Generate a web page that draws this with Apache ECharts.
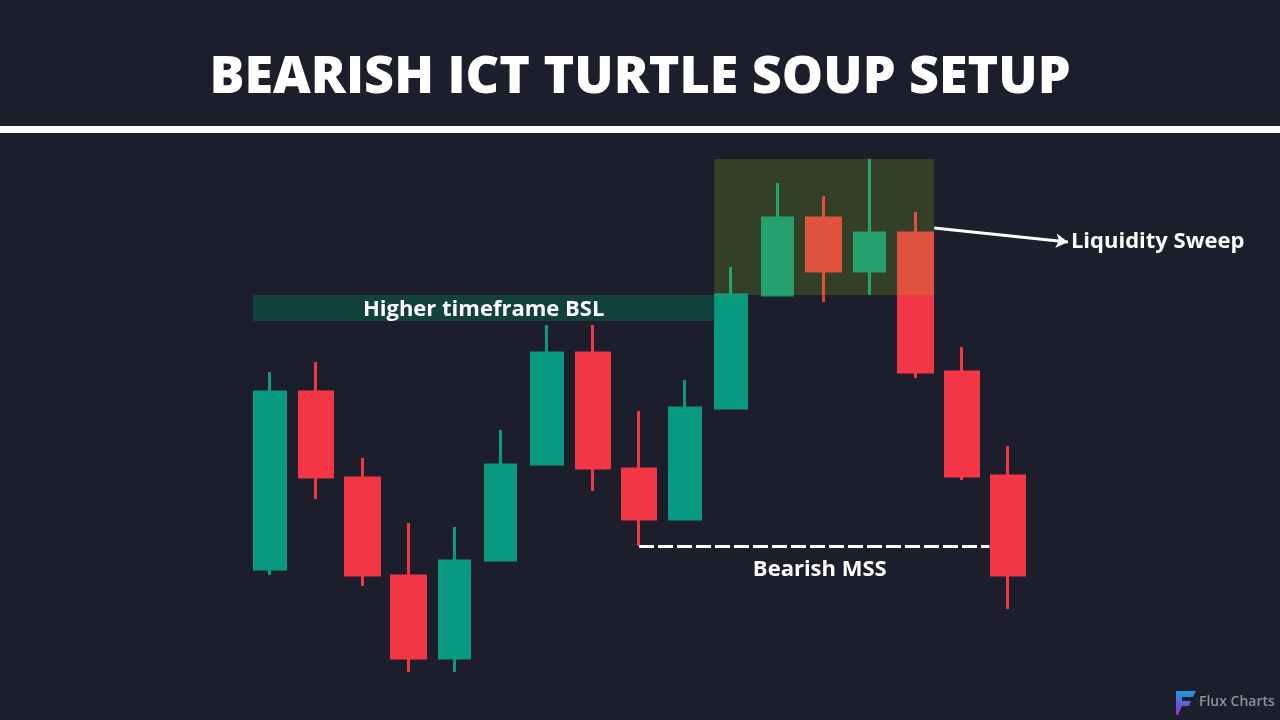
<!DOCTYPE html>
<html>
<head>
<meta charset="utf-8">
<title>Bearish ICT Turtle Soup Setup</title>
<script src="https://cdn.jsdelivr.net/npm/echarts@6/dist/echarts.min.js"></script>
<style>
  html, body { margin: 0; padding: 0; background: #1c1f2b; }
  #chart { width: 1280px; height: 720px; }
</style>
</head>
<body>
<div id="chart"></div>
<script>
// candles left to right, price units (0..72)
let candleIds = ['c1','c2','c3','c4','c5','c6','c7','c8','c9','c10','c11','c12','c13','c14','c15','c16','c17'];
let openVals  = [15.1, 32.8, 24.2, 14.4,  6.2, 16.0, 25.6, 36.7, 25.1, 20.1, 31.2, 42.5, 50.2, 44.9, 48.7, 34.8, 24.4];
let closeVals = [32.8, 24.3, 14.5,  6.2, 15.9, 25.5, 36.7, 25.2, 20.1, 31.2, 42.5, 50.2, 44.9, 48.7, 34.8, 24.4, 14.5];
let lowVals   = [14.5, 22.1, 13.4,  4.8,  4.8, 16.0, 25.6, 22.9, 17.4, 20.1, 31.2, 42.5, 41.8, 42.5, 34.2, 24.0, 11.1];
let highVals  = [34.8, 35.8, 26.2, 19.7, 19.3, 29.0, 39.5, 39.5, 30.9, 34.0, 45.3, 53.7, 52.4, 56.1, 50.8, 37.3, 27.4];

// key levels
let bslLevel = 42.5;      // higher timeframe buy side liquidity
let bslBand = 2.6;        // thickness of the BSL zone
let mssLevel = 17.4;      // low that gets broken (market structure shift)
let sweepFrom = 10, sweepTo = 14;   // candles inside the liquidity sweep box

let upColor = '#089981';
let downColor = '#f23645';
let bgColor = '#1c1f2b';
let font = 'Open Sans';

// layout: second full-size grid shares the candle index scale
const GRID_LEFT = 247, GRID_W = 784;
const SLOT = GRID_W / candleIds.length;
const xMin = -0.5 - GRID_LEFT / SLOT;
const xMax = xMin + 1280 / SLOT;
const upHalf = 17 / SLOT, downHalf = 18.5 / SLOT;

function pick(up) {
    return candleIds.map(function (_, i) {
        return (closeVals[i] > openVals[i]) === up
            ? [openVals[i], closeVals[i], lowVals[i], highVals[i]] : '-';
    });
}

let sweepHigh = Math.max.apply(null, highVals.slice(sweepFrom, sweepTo + 1));
let labelStyle = { color: '#fff', fontSize: 22, fontWeight: 'bold', fontFamily: font };

let chart = echarts.init(document.getElementById('chart'));
let option = {
    backgroundColor: bgColor,
    animation: false,
    title: {
        text: 'BEARISH ICT TURTLE SOUP SETUP',
        left: 'center',
        top: 47,
        textStyle: { color: '#fff', fontSize: 52, fontWeight: 800, fontFamily: font }
    },
    grid: [
        { left: GRID_LEFT, width: GRID_W, top: 0, height: 720 },
        { left: 0, right: 0, top: 0, bottom: 0 }
    ],
    xAxis: [
        { type: 'category', data: candleIds, gridIndex: 0, show: false },
        { type: 'value', gridIndex: 1, min: xMin, max: xMax, show: false }
    ],
    yAxis: [
        { type: 'value', gridIndex: 0, min: 0, max: 72, show: false },
        { type: 'value', gridIndex: 1, min: 0, max: 72, show: false }
    ],
    graphic: [
        { type: 'rect', left: 0, top: 126, shape: { width: 1280, height: 7 }, style: { fill: '#fff' } },
        {
            type: 'polygon',
            shape: { points: [[1176,691],[1196,691],[1193,697],[1182,697],[1182,701],[1191,701],[1189,706],[1182,706],[1178,715],[1176,715]] },
            style: {
                fill: new echarts.graphic.LinearGradient(0, 0, 0, 1, [
                    { offset: 0, color: '#1e9be0' },
                    { offset: 1, color: '#9b2bc9' }
                ])
            }
        },
        {
            type: 'text', left: 1199, top: 695,
            style: { text: 'Flux Charts', fill: '#8f929a', fontSize: 14, fontWeight: 600, fontFamily: font }
        }
    ],
    series: [
        {
            name: 'up', type: 'candlestick', data: pick(true), barWidth: 31,
            itemStyle: { color: upColor, color0: upColor, borderColor: upColor, borderColor0: upColor, borderWidth: 3 }
        },
        {
            name: 'down', type: 'candlestick', data: pick(false), barWidth: 34,
            itemStyle: { color: downColor, color0: downColor, borderColor: downColor, borderColor0: downColor, borderWidth: 3 }
        },
        {
            name: 'notes', type: 'line', xAxisIndex: 1, yAxisIndex: 1, data: [], z: 5,
            markArea: {
                silent: true,
                z: 10,
                data: [
                    [
                        { xAxis: 0 - upHalf, yAxis: bslLevel, itemStyle: { color: '#12403d' },
                          label: Object.assign({ show: true, position: 'inside', offset: [0, 2],
                                                 formatter: 'Higher timeframe BSL' }, labelStyle) },
                        { xAxis: sweepFrom - upHalf, yAxis: bslLevel - bslBand }
                    ],
                    [
                        { xAxis: sweepFrom - upHalf, yAxis: sweepHigh, itemStyle: { color: 'rgba(150,195,30,0.2)' } },
                        { xAxis: sweepTo + downHalf, yAxis: bslLevel }
                    ]
                ]
            },
            markLine: {
                silent: true,
                symbol: ['none', 'none'],
                label: { show: false },
                data: [
                    [
                        { coord: [8, mssLevel], lineStyle: { color: '#fff', width: 3, type: [15, 4] } },
                        { coord: [16 - downHalf, mssLevel] }
                    ],
                    [
                        { coord: [sweepTo + downHalf, 49.2], symbol: 'none', lineStyle: { color: '#fff', width: 3, type: 'solid' } },
                        { coord: [17.3, 47.8], symbol: 'arrow', symbolSize: [11, 12] }
                    ]
                ]
            },
            markPoint: {
                silent: true,
                symbol: 'circle',
                symbolSize: 0,
                data: [
                    { coord: [11.92, 15.0], label: Object.assign({ show: true, position: 'inside', formatter: 'Bearish MSS' }, labelStyle) },
                    { coord: [17.3, 47.8], label: Object.assign({ show: true, position: 'right', distance: 3, formatter: 'Liquidity Sweep' }, labelStyle) }
                ]
            }
        }
    ]
};
chart.setOption(option);
</script>
</body>
</html>
